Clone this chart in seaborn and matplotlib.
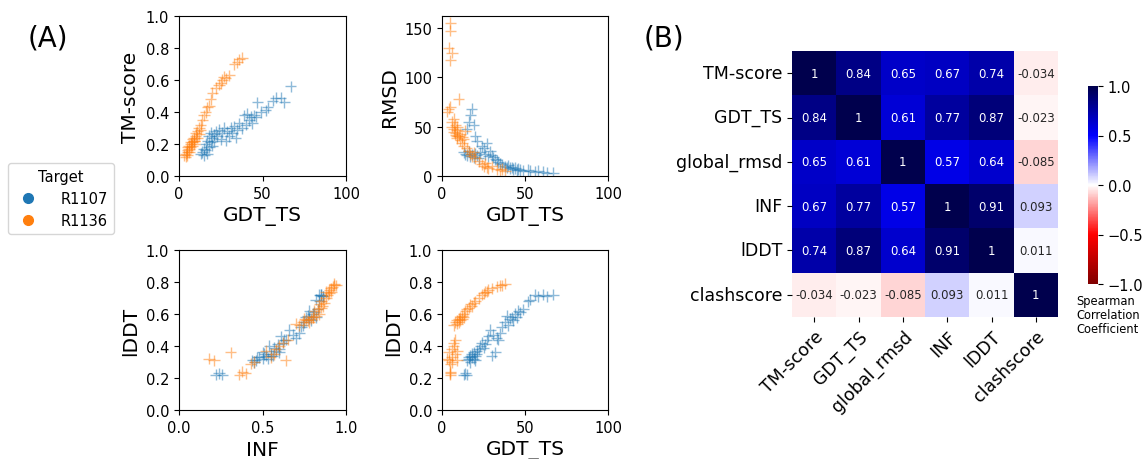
import numpy as np
import pandas as pd
import matplotlib
matplotlib.use('Agg')
import matplotlib.pyplot as plt
from matplotlib.lines import Line2D
import seaborn as sns

# ---- data: R1107 models ----
r1107_gdt = [13, 14, 15, 15, 16, 16, 17, 17, 18, 18, 19, 19, 20, 20, 21, 21, 22,
             23, 24, 25, 26, 27, 28, 29, 30, 31, 32, 33, 34, 35,
             36, 38, 39, 40, 41, 42, 43, 44, 45,
             46, 47, 49, 52, 53, 56, 58, 61, 63, 67]
r1107_tm = [.14, .15, .13, .17, .16, .20, .14, .22, .18, .25, .21, .27, .24, .19, .26, .22, .28,
            .25, .29, .23, .27, .30, .22, .28, .25, .30, .27, .31, .24, .29,
            .33, .30, .38, .32, .39, .35, .37, .33, .38,
            .37, .46, .40, .41, .43, .47, .49, .49, .46, .56]
r1107_rmsd = [24, 22, 21, 48, 55, 25, 62, 20, 68, 22, 52, 19, 40, 23, 21, 35, 18,
              24, 30, 28, 22, 33, 20, 25, 21, 19, 17, 16, 14, 13,
              12, 10, 9, 11, 8, 9, 7, 8, 6,
              7, 6, 5, 6, 5, 4, 5, 4, 3, 3]
r1107_inf = [.22, .24, .26, .44, .47, .50, .45, .52, .48, .55, .53, .50, .56, .46, .58, .51, .60,
             .54, .62, .57, .59, .64, .61, .66, .55, .68, .60, .70, .63, .72,
             .73, .75, .77, .74, .78, .76, .79, .80, .82,
             .78, .81, .83, .84, .82, .85, .86, .84, .86, .85]
r1107_lddt = [.22, .23, .22, .31, .33, .32, .30, .34, .33, .35, .32, .36, .34, .31, .37, .35, .38,
              .40, .42, .39, .41, .44, .46, .50, .34, .47, .36, .45, .44, .48,
              .52, .55, .59, .53, .57, .58, .56, .60, .58,
              .62, .61, .63, .68, .69, .72, .71, .72, .71, .72]

# ---- data: R1136 models ----
r1136_gdt = [3, 4, 4, 5, 5, 5, 5, 6, 6, 6, 7, 7, 8, 8, 9, 9,
             7, 8, 9, 9, 10, 10, 11, 11, 12, 12, 13, 13, 14, 15, 16, 17, 18, 19, 20,
             22, 24, 25, 26, 27, 28, 30, 33, 35, 36, 38]
r1136_tm = [.13, .12, .14, .15, .13, .16, .18, .17, .19, .15, .20, .18, .21, .19, .22, .20,
            .21, .23, .24, .22, .25, .27, .24, .28, .26, .30, .29, .32, .35, .38, .40, .43, .44, .48, .52,
            .55, .57, .58, .60, .62, .61, .63, .70, .71, .73, .74]
r1136_rmsd = [65, 130, 68, 155, 147, 117, 70, 125, 55, 50, 48, 45, 52, 42, 47, 40,
              58, 44, 50, 38, 78, 41, 36, 43, 39, 33, 37, 30, 46, 28, 25, 22, 20, 24, 18,
              15, 12, 10, 13, 9, 8, 10, 7, 6, 7, 5]
r1136_inf = [.18, .21, .31, .36, .38, .40, .43, .45, .55, .58, .60, .62, .57, .65, .64, .52,
             .72, .74, .70, .76, .78, .75, .80, .77, .79, .82, .80, .84, .81, .83, .85, .84, .86, .87, .85,
             .88, .89, .90, .88, .91, .90, .91, .92, .93, .94, .93]
r1136_lddt = [.32, .31, .36, .22, .24, .23, .29, .30, .33, .38, .40, .42, .35, .44, .31, .37,
              .53, .55, .54, .56, .55, .57, .58, .56, .57, .59, .58, .60, .62, .63, .64, .66, .65, .67, .68,
              .70, .72, .73, .74, .74, .75, .76, .77, .78, .78, .79]

targets = ['R1107', 'R1136']

# ---- data: Spearman correlation matrix ----
metrics = ['TM-score', 'GDT_TS', 'global_rmsd', 'INF', 'lDDT', 'clashscore']
corr_vals = [
    [1, 0.84, 0.65, 0.67, 0.74, -0.034],
    [0.84, 1, 0.61, 0.77, 0.87, -0.023],
    [0.65, 0.61, 1, 0.57, 0.64, -0.085],
    [0.67, 0.77, 0.57, 1, 0.91, 0.093],
    [0.74, 0.87, 0.64, 0.91, 1, 0.011],
    [-0.034, -0.023, -0.085, 0.093, 0.011, 1],
]

df = pd.concat([
    pd.DataFrame({'GDT_TS': r1107_gdt, 'TM-score': r1107_tm, 'RMSD': r1107_rmsd,
                  'INF': r1107_inf, 'lDDT': r1107_lddt, 'Target': 'R1107'}),
    pd.DataFrame({'GDT_TS': r1136_gdt, 'TM-score': r1136_tm, 'RMSD': r1136_rmsd,
                  'INF': r1136_inf, 'lDDT': r1136_lddt, 'Target': 'R1136'}),
], ignore_index=True)
corr_df = pd.DataFrame(corr_vals, index=metrics, columns=metrics)

W, H = 1145, 460
fig = plt.figure(figsize=(W / 100, H / 100), dpi=100)


def px_axes(l, t, r, b):
    return fig.add_axes([l / W, 1 - b / H, (r - l) / W, (b - t) / H])


palette = sns.color_palette('tab10', 2)
panels = [
    ((179, 17, 346, 177), 'GDT_TS', 'TM-score', (0, 100), (0, 1)),
    ((442, 17, 608, 177), 'GDT_TS', 'RMSD', (0, 100), (0, 162)),
    ((179, 251, 346, 411), 'INF', 'lDDT', (0, 1), (0, 1)),
    ((442, 251, 608, 411), 'GDT_TS', 'lDDT', (0, 100), (0, 1)),
]
for box, xc, yc, xl, yl in panels:
    ax = px_axes(*box)
    sns.scatterplot(data=df, x=xc, y=yc, hue='Target', hue_order=targets, palette=palette,
                    marker='+', s=65, linewidth=1, alpha=0.5, legend=False, ax=ax)
    ax.set_xlim(*xl)
    ax.set_ylim(*yl)
    if xl[1] == 1:
        ax.set_xticks([0, 0.5, 1.0])
    else:
        ax.set_xticks([0, 50, 100])
    if yc == 'RMSD':
        ax.set_yticks([0, 50, 100, 150])
    else:
        ax.set_yticks(np.arange(0, 1.01, 0.2))
    ax.tick_params(labelsize=10.5)
    ax.set_xlabel(xc, fontsize=14.5)
    ax.set_ylabel(yc, fontsize=14.5)

handles = [Line2D([0], [0], marker='o', linestyle='', markerfacecolor=c, markeredgecolor=c,
                  markersize=7) for c in palette]
fig.legend(handles, targets, title='Target', loc='upper left', borderaxespad=0,
           bbox_to_anchor=(8 / W, 1 - 164 / H), fontsize=10.5, title_fontsize=10.5,
           handletextpad=1.2)

# ---- heatmap ----
ax_h = px_axes(792, 52, 1058, 318)
ax_cb = px_axes(1088, 87, 1098, 285)
sns.heatmap(corr_df, ax=ax_h, cbar_ax=ax_cb, cmap='seismic_r', vmin=-1, vmax=1,
            annot=True, annot_kws={'size': 8.5})
ax_h.set_xticklabels(metrics, rotation=45, ha='right', rotation_mode='anchor', fontsize=12.5)
ax_h.set_yticklabels(metrics, rotation=0, fontsize=12.5)
ax_cb.set_yticks([-1, -0.5, 0, 0.5, 1])
ax_cb.tick_params(labelsize=10.5)
fig.text(1076 / W, 1 - 295 / H, 'Spearman\nCorrelation\nCoefficient', fontsize=8.3,
         va='top', ha='left', linespacing=1.1)

fig.text(48 / W, 1 - 38 / H, '(A)', fontsize=20, ha='center', va='center')
fig.text(664 / W, 1 - 38 / H, '(B)', fontsize=20, ha='center', va='center')

fig.savefig('out.png', dpi=100)
